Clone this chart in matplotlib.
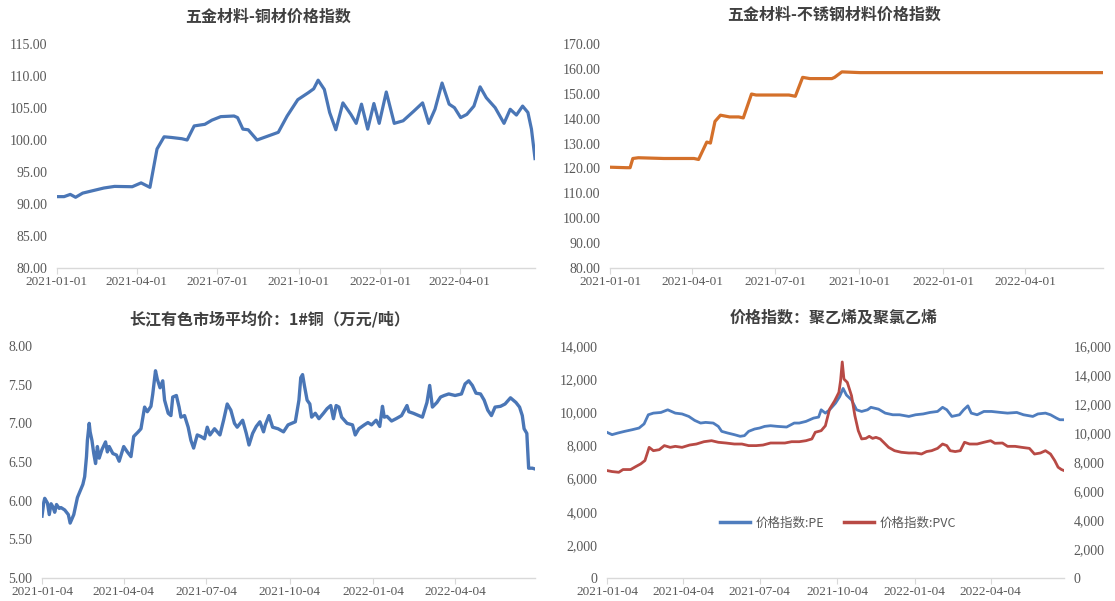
import pandas as pd
import matplotlib.pyplot as plt
import matplotlib.ticker as mticker
from matplotlib.lines import Line2D

plt.rcParams['font.family'] = ['Liberation Serif', 'Noto Sans CJK SC', 'DejaVu Sans']

# ---- data (days counted from the first date of each series) ----
cu_index_start = '2021-01-01'
cu_index_days = [0, 8, 15, 21, 29, 41, 53, 65, 85, 95, 105, 113, 121, 129, 141, 147, 155, 167, 175, 185,
                 200, 204, 210, 216, 226, 236, 244, 250, 260, 272, 284, 290, 295, 302, 308, 315, 323, 332,
                 338, 344, 351, 358, 364, 372, 381, 391, 403, 413, 420, 427, 435, 443, 449, 456, 463, 471,
                 478, 485, 495, 505, 512, 519, 526, 532, 536, 540]
cu_index_vals = [91.15, 91.15, 91.5, 91.05, 91.7, 92.1, 92.5, 92.75, 92.7, 93.3, 92.6, 98.6, 100.5, 100.4,
                 100.2, 100.0, 102.2, 102.45, 103.1, 103.65, 103.75, 103.5, 101.7, 101.6, 100.0, 100.5,
                 100.9, 101.2, 103.75, 106.3, 107.4, 108.0, 109.35, 107.9, 104.3, 101.6, 105.8, 104.0,
                 102.6, 105.6, 101.7, 105.7, 102.6, 107.5, 102.6, 103.0, 104.5, 105.8, 102.6, 104.8,
                 108.9, 105.6, 105.05, 103.5, 104.0, 105.3, 108.3, 106.6, 105.05, 102.6, 104.8, 103.9,
                 105.3, 104.3, 101.7, 97.1]

ss_start = '2021-01-01'
ss_days = [0, 18, 22, 25, 31, 59, 92, 97, 106, 110, 115, 121, 131, 141, 146, 155, 160, 196, 203, 211,
           219, 243, 246, 254, 274, 540]
ss_vals = [120.5, 120.3, 120.3, 124.0, 124.3, 124.0, 124.0, 123.6, 130.6, 130.2, 138.9, 141.4, 140.7,
           140.7, 140.3, 149.9, 149.5, 149.5, 149.0, 156.6, 156.1, 156.1, 156.6, 158.8, 158.5, 158.5]

cu_spot_start = '2021-01-04'
cu_spot_days = [0, 2, 3, 6, 8, 10, 12, 14, 16, 19, 21, 25, 29, 31, 35, 39, 45, 47, 49, 50, 52, 53, 55,
                57, 59, 61, 63, 66, 70, 72, 74, 78, 82, 85, 90, 94, 98, 101, 106, 109, 113, 116, 120,
                122, 125, 127, 130, 133, 135, 139, 142, 144, 148, 151, 153, 157, 161, 164, 167, 171,
                175, 179, 182, 185, 190, 196, 200, 204, 208, 212, 215, 221, 225, 228, 232, 236, 240,
                244, 246, 250, 254, 260, 266, 271, 279, 283, 285, 287, 289, 292, 295, 297, 301, 305,
                310, 314, 318, 321, 324, 327, 330, 336, 342, 345, 349, 355, 359, 363, 368, 372, 375,
                377, 380, 385, 390, 396, 402, 404, 409, 415, 419, 424, 427, 430, 435, 439, 443, 448,
                455, 462, 466, 470, 474, 478, 483, 487, 491, 495, 499, 505, 510, 516, 522, 526, 529,
                531, 534, 536, 540, 543]
cu_spot_vals = [5.80, 5.98, 6.03, 5.97, 5.82, 5.96, 5.92, 5.85, 5.95, 5.90, 5.91, 5.88, 5.82, 5.71, 5.82,
                6.04, 6.21, 6.31, 6.57, 6.78, 7.00, 6.89, 6.78, 6.61, 6.48, 6.70, 6.55, 6.66, 6.76,
                6.63, 6.70, 6.61, 6.59, 6.51, 6.70, 6.63, 6.57, 6.83, 6.89, 6.93, 7.21, 7.15, 7.22,
                7.38, 7.68, 7.57, 7.46, 7.55, 7.30, 7.13, 7.10, 7.34, 7.36, 7.21, 7.08, 7.10, 6.95,
                6.78, 6.68, 6.85, 6.83, 6.80, 6.95, 6.85, 6.93, 6.85, 7.04, 7.25, 7.17, 7.00, 6.95,
                7.04, 6.87, 6.72, 6.87, 6.96, 7.02, 6.89, 6.98, 7.10, 6.95, 6.93, 6.89, 6.98, 7.02,
                7.30, 7.59, 7.63, 7.49, 7.30, 7.25, 7.08, 7.13, 7.06, 7.13, 7.19, 7.23, 7.06, 7.23,
                7.21, 7.08, 7.00, 6.98, 6.85, 6.93, 6.98, 7.01, 6.98, 7.04, 6.96, 7.22, 7.08, 7.09,
                7.03, 7.06, 7.10, 7.23, 7.15, 7.13, 7.10, 7.08, 7.27, 7.49, 7.21, 7.27, 7.34, 7.36,
                7.38, 7.36, 7.38, 7.51, 7.55, 7.49, 7.39, 7.38, 7.30, 7.17, 7.10, 7.21, 7.22, 7.25,
                7.33, 7.27, 7.21, 7.10, 6.93, 6.87, 6.42, 6.42, 6.41]

plastic_start = '2021-01-04'
pe_days = [0, 6, 13, 21, 30, 38, 44, 49, 55, 64, 72, 81, 89, 97, 104, 111, 117, 126, 132, 136, 143, 151,
           158, 163, 168, 175, 181, 187, 194, 202, 213, 222, 228, 236, 245, 251, 254, 259, 264, 271,
           276, 280, 284, 290, 296, 302, 309, 313, 322, 330, 339, 347, 358, 366, 375, 383, 392, 398,
           403, 409, 418, 423, 428, 432, 439, 447, 456, 467, 475, 486, 494, 505, 511, 520, 526, 533,
           537, 542]
pe_vals = [8790, 8650, 8750, 8850, 8950, 9050, 9300, 9850, 9950, 9990, 10150, 9950, 9900, 9750, 9510,
           9350, 9390, 9350, 9150, 8850, 8750, 8650, 8550, 8590, 8850, 8990, 9050, 9150, 9190, 9150,
           9110, 9350, 9350, 9450, 9650, 9710, 10150, 9950, 10150, 10550, 10950, 11440, 11040, 10750,
           10150, 10050, 10150, 10300, 10190, 9950, 9850, 9850, 9750, 9850, 9900, 9990, 10050, 10300,
           10150, 9750, 9850, 10150, 10390, 9950, 9850, 10050, 10050, 9990, 9950, 9990, 9850, 9750,
           9900, 9950, 9850, 9650, 9550, 9550]
pvc_days = [0, 6, 14, 19, 28, 34, 40, 45, 50, 55, 62, 68, 75, 81, 89, 98, 106, 115, 124, 132, 141, 151,
            160, 168, 177, 185, 194, 202, 211, 219, 228, 236, 243, 247, 254, 259, 264, 270, 275, 277,
            279, 281, 285, 290, 294, 298, 302, 307, 311, 315, 319, 324, 328, 334, 341, 349, 358, 366,
            373, 379, 385, 392, 398, 403, 407, 413, 419, 424, 430, 439, 447, 455, 460, 469, 475, 484,
            492, 501, 507, 514, 520, 526, 531, 535, 539, 542]
pvc_vals = [7410, 7340, 7290, 7480, 7480, 7680, 7870, 8100, 9010, 8780, 8850, 9130, 9010, 9080, 9010,
            9170, 9240, 9400, 9470, 9360, 9310, 9240, 9240, 9130, 9130, 9170, 9310, 9310, 9310, 9400,
            9400, 9470, 9590, 10050, 10160, 10500, 11650, 12220, 12800, 13600, 14900, 13720, 13490,
            12570, 11190, 10160, 9590, 9630, 9770, 9630, 9700, 9590, 9360, 9010, 8780, 8670, 8620,
            8620, 8550, 8720, 8780, 8940, 9240, 9130, 8780, 8720, 8780, 9360, 9240, 9240, 9360, 9470,
            9290, 9310, 9080, 9080, 9010, 8940, 8550, 8620, 8780, 8550, 8100, 7640, 7480, 7410]

ticks_01 = ['2021-01-01', '2021-04-01', '2021-07-01', '2021-10-01', '2022-01-01', '2022-04-01']
ticks_04 = ['2021-01-04', '2021-04-04', '2021-07-04', '2021-10-04', '2022-01-04', '2022-04-04']

W, H = 1115, 601
GREY = '#595959'
SERIF = ['Liberation Serif', 'DejaVu Serif']


def to_dates(start, days):
    return pd.Timestamp(start) + pd.to_timedelta(days, unit='D')


def px_axes(fig, left, top, right, bottom):
    return fig.add_axes([left / W, 1 - bottom / H, (right - left) / W, (bottom - top) / H])


def serif_labels(ax, which):
    labels = ax.get_yticklabels() if which == 'y' else ax.get_xticklabels()
    for lab in labels:
        lab.set_fontfamily(SERIF)


def style_axes(ax, ticks, ylim, ystep, fmt):
    for s in ['top', 'right', 'left']:
        ax.spines[s].set_visible(False)
    ax.spines['bottom'].set_color('#D9D9D9')
    ax.spines['bottom'].set_linewidth(1.0)
    ax.set_ylim(*ylim)
    ax.yaxis.set_major_locator(mticker.MultipleLocator(ystep))
    ax.yaxis.set_major_formatter(mticker.FuncFormatter(fmt))
    ax.tick_params(axis='y', length=0, pad=7, labelsize=10, labelcolor=GREY)
    ax.tick_params(axis='x', length=4, color='#D9D9D9', labelsize=9.5, labelcolor=GREY, pad=2)
    ax.set_xticks(pd.to_datetime(ticks))
    ax.set_xticklabels(ticks)
    serif_labels(ax, 'x')
    serif_labels(ax, 'y')


def title(fig, x, y, text):
    fig.text(x / W, 1 - y / H, text, ha='center', va='center', fontsize=11.5, fontweight='bold',
             family=['Noto Sans CJK SC'], color='#404040')


fig = plt.figure(figsize=(W / 100, H / 100), dpi=100)

# top left: copper index
ax1 = px_axes(fig, 57, 44, 535, 268)
x1 = to_dates(cu_index_start, cu_index_days)
ax1.plot(x1, cu_index_vals, color='#4A76B6', linewidth=2.3, solid_joinstyle='round')
ax1.set_xlim(x1[0], x1[-1])
style_axes(ax1, ticks_01, (80, 115), 5, lambda v, p: '%.2f' % v)
title(fig, 268, 17, '五金材料-铜材价格指数')

# top right: stainless steel index
ax2 = px_axes(fig, 610, 44, 1103, 268)
x2 = to_dates(ss_start, ss_days)
ax2.plot(x2, ss_vals, color='#D4702A', linewidth=2.3, solid_joinstyle='round')
ax2.set_xlim(x2[0], x2[-1])
style_axes(ax2, ticks_01, (80, 170), 10, lambda v, p: '%.2f' % v)
title(fig, 834, 15, '五金材料-不锈钢材料价格指数')

# bottom left: copper spot price
ax3 = px_axes(fig, 42, 346, 535, 578)
x3 = to_dates(cu_spot_start, cu_spot_days)
ax3.plot(x3, cu_spot_vals, color='#4A76B6', linewidth=2.4, solid_joinstyle='round')
ax3.set_xlim(x3[0], x3[-1])
style_axes(ax3, ticks_04, (5, 8), 0.5, lambda v, p: '%.2f' % v)
title(fig, 270, 319, '长江有色市场平均价：1#铜（万元/吨）')

# bottom right: PE / PVC
ax4 = px_axes(fig, 607, 346, 1064, 578)
ax4r = ax4.twinx()
x_pe = to_dates(plastic_start, pe_days)
x_pvc = to_dates(plastic_start, pvc_days)
ax4.plot(x_pe, pe_vals, color='#4F7DBE', linewidth=2.0, solid_joinstyle='round')
ax4r.plot(x_pvc, pvc_vals, color='#B84A45', linewidth=2.0, solid_joinstyle='round')
ax4.set_xlim(x_pe[0], x_pe[-1])
style_axes(ax4, ticks_04, (0, 14000), 2000, lambda v, p: '{:,.0f}'.format(v))
for s in ['top', 'right', 'left', 'bottom']:
    ax4r.spines[s].set_visible(False)
ax4r.set_ylim(0, 16000)
ax4r.yaxis.set_major_locator(mticker.MultipleLocator(2000))
ax4r.yaxis.set_major_formatter(mticker.FuncFormatter(lambda v, p: '{:,.0f}'.format(v)))
ax4r.tick_params(axis='y', length=0, pad=7, labelsize=10, labelcolor=GREY)
serif_labels(ax4r, 'y')
title(fig, 834, 318, '价格指数：聚乙烯及聚氯乙烯')

handles = [Line2D([], [], color='#4F7DBE', linewidth=2.5),
           Line2D([], [], color='#B84A45', linewidth=2.5)]
leg = fig.legend(handles, ['价格指数:PE', '价格指数:PVC'], loc='center',
                 bbox_to_anchor=(838 / W, 1 - 523 / H), ncol=2, frameon=False,
                 prop={'family': ['Noto Sans CJK SC'], 'size': 9}, handlelength=2.4,
                 columnspacing=1.6, handletextpad=0.4)
for t in leg.get_texts():
    t.set_color(GREY)

fig.savefig('out.png', dpi=100)
